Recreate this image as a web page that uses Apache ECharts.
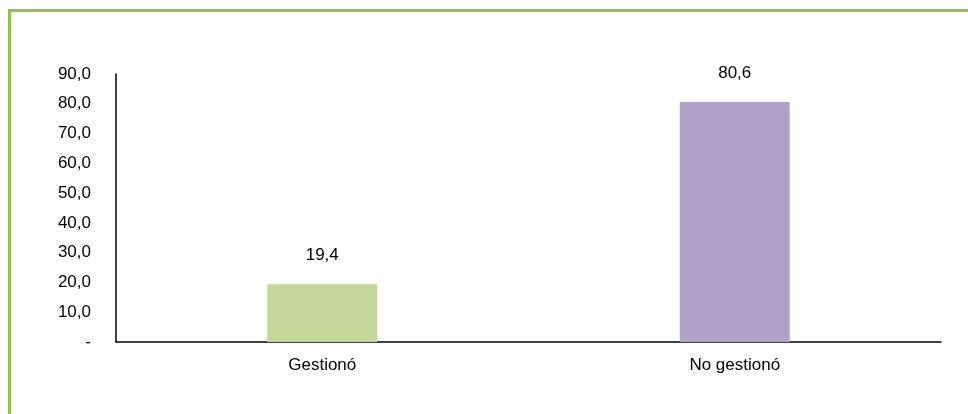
<!DOCTYPE html>
<html>
<head>
<meta charset="utf-8">
<script src="https://cdn.jsdelivr.net/npm/echarts@6/dist/echarts.min.js"></script>
<style>
html,body{margin:0;padding:0;background:#fff;}
#frame{position:absolute;left:8px;top:9px;width:1000px;height:500px;border-left:3px solid #92C152;border-top:3px solid #92C152;box-sizing:border-box;}
#chart{position:absolute;left:0;top:0;width:968px;height:414px;}
</style>
</head>
<body>
<div id="frame"></div>
<div id="chart"></div>
<script>
var categories = ['Gestionó', 'No gestionó'];
var values = [19.4, 80.6];
var barColors = ['#C4D79B', '#B1A0C7'];

function fmt(v){ return v.toFixed(1).replace('.', ','); }

var FONT = 'Liberation Sans, Arial';
var chart = echarts.init(document.getElementById('chart'));
chart.setOption({
  animation: false,
  grid: {left: 116, right: 27, top: 74, bottom: 72},
  xAxis: {
    type: 'category',
    data: categories,
    axisLine: {lineStyle: {color: '#000', width: 1.5}},
    axisTick: {show: false},
    axisLabel: {color: '#000', fontSize: 17, fontFamily: FONT, margin: 15}
  },
  yAxis: {
    type: 'value',
    min: 0, max: 90, interval: 10,
    axisLine: {show: true, lineStyle: {color: '#000', width: 1.5}},
    axisTick: {show: false},
    splitLine: {show: false},
    axisLabel: {
      color: '#000', fontSize: 17, fontFamily: FONT, margin: 25,
      formatter: function(v){ return v === 0 ? '-' : fmt(v); }
    }
  },
  series: [{
    type: 'bar',
    barWidth: 110,
    data: values.map(function(v, i){ return {value: v, itemStyle: {color: barColors[i]}}; }),
    label: {
      show: true, position: 'top', distance: 20,
      color: '#000', fontSize: 17, fontFamily: FONT,
      formatter: function(p){ return fmt(p.value); }
    }
  }]
});
</script>
</body>
</html>
